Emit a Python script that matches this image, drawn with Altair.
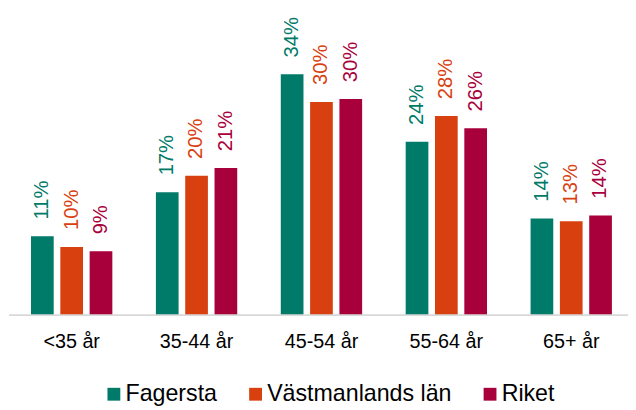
import altair as alt
import pandas as pd

categories = ["<35 år", "35-44 år", "45-54 år", "55-64 år", "65+ år"]
series = ["Fagersta", "Västmanlands län", "Riket"]
fagersta = [11.1, 17.3, 33.9, 24.4, 13.6]
vastmanland = [9.6, 19.6, 30.0, 28.0, 13.2]
riket = [9.0, 20.7, 30.4, 26.3, 14.0]
colors = ["#007A69", "#D94010", "#A8003B"]

rows = []
for s, vals in zip(series, [fagersta, vastmanland, riket]):
    for c, v in zip(categories, vals):
        rows.append({"kategori": c, "serie": s, "value": v})
df = pd.DataFrame(rows)

FONT = "Liberation Sans"

x = alt.X("kategori:N", sort=categories, title=None,
          scale=alt.Scale(paddingInner=0.091, paddingOuter=0),
          axis=alt.Axis(labelAngle=0, labelFontSize=20, labelFont=FONT, labelColor="#000000",
                        labelPadding=17, ticks=False, tickSize=0, domain=False,
                        grid=False, labelBaseline="top"))
xoff = alt.XOffset("serie:N", sort=series,
                   scale=alt.Scale(paddingInner=0.226, paddingOuter=0.549))
y = alt.Y("value:Q", scale=alt.Scale(domain=[0, 40]), axis=None)
color = alt.Color("serie:N", sort=series,
                  scale=alt.Scale(domain=series, range=colors),
                  legend=alt.Legend(title=None, orient="none", direction="horizontal",
                                    legendX=88.5, legendY=356, symbolType="square",
                                    symbolSize=169, symbolStrokeWidth=0,
                                    labelFontSize=23.5, labelFont=FONT, labelColor="#000000",
                                    labelLimit=0, labelOffset=0, columnPadding=26.5,
                                    padding=0))

bars = alt.Chart(df).mark_bar().encode(x=x, xOffset=xoff, y=y, color=color)

labels = alt.Chart(df).transform_calculate(
    label="format(datum.value, '.0f') + '%'"
).mark_text(angle=270, align="left", baseline="middle", fontSize=20.5, font=FONT,
            yOffset=-17).encode(
    x=x, xOffset=xoff, y=y, text="label:N",
    color=alt.Color("serie:N", sort=series, scale=alt.Scale(domain=series, range=colors), legend=None)
)

baseline = alt.Chart(pd.DataFrame({"v": [0]})).mark_rule(
    color="#D9D9D9", strokeWidth=2
).encode(x=alt.value(-6), x2=alt.value(621), y=alt.Y("v:Q", scale=alt.Scale(domain=[0, 40]), axis=None))

chart = alt.layer(bars, baseline, labels).properties(
    width=621, height=288,
    autosize=alt.AutoSizeParams(type="none"),
    padding={"left": 7, "top": 20.5, "right": 0, "bottom": 93.5},
).configure_view(stroke=None)

chart.save("out.html", embed_options={"renderer": "svg", "actions": False})
